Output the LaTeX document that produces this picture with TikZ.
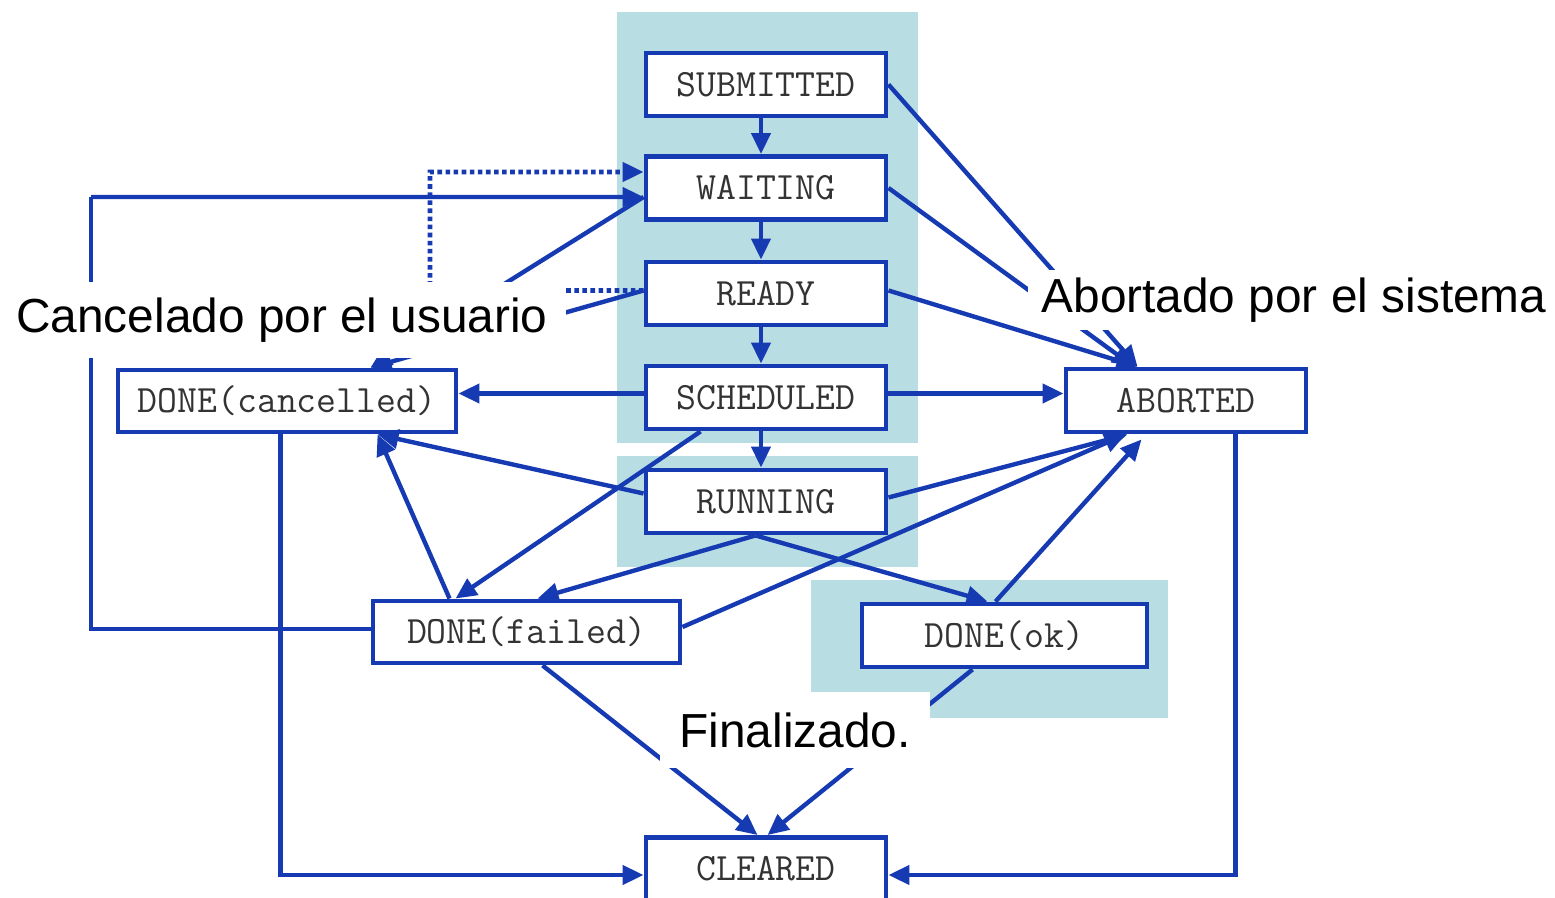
\documentclass[tikz,border=0pt]{standalone}
\usepackage{fontspec}
\setmainfont{Liberation Sans}
\usepackage{tikz}
\usepackage{xcolor}
\usetikzlibrary{arrows.meta}

\definecolor{linkblue}{RGB}{22,58,178}
\definecolor{panelblue}{RGB}{184,221,227}

\tikzset{
  state/.style={draw=linkblue,line width=1.4pt,fill=white,minimum width=2.4cm,minimum height=0.63cm,inner sep=0pt,font=\ttfamily\fontsize{11}{13}\selectfont,text=black!80},
  conn/.style={linkblue,line width=1.25pt,-{Triangle[length=0.21cm,width=0.19cm]}},
  plain/.style={linkblue,line width=1.25pt},
  dots/.style={linkblue,line width=1.3pt,densely dotted,-{Triangle[length=0.21cm,width=0.19cm]}},
  tag/.style={fill=white,inner sep=0pt,font=\fontsize{13.6}{16}\selectfont,text=black}
}

\begin{document}
\begin{tikzpicture}
      \useasboundingbox (0,0) rectangle (15.55,-8.98);
      \fill [panelblue] (6.17,-0.12) rectangle (9.18,-4.43);
      \fill [panelblue] (6.17,-4.56) rectangle (9.18,-5.67);
      \fill [panelblue] (8.11,-5.80) rectangle (11.68,-7.18);

      \node [state] (sub) at (7.66,-0.845) {SUBMITTED};
      \node [state] (wait) at (7.66,-1.88) {WAITING};
      \node [state] (ready) at (7.66,-2.935) {READY};
      \node [state] (sched) at (7.66,-3.975) {SCHEDULED};
      \node [state] (run) at (7.66,-5.015) {RUNNING};
      \node [state,minimum width=3.38cm,minimum height=0.62cm] (canc) at (2.87,-4.01) {DONE(cancelled)};
      \node [state] (abort) at (11.86,-4.005) {ABORTED};
      \node [state,minimum width=3.07cm,minimum height=0.62cm] (fail) at (5.265,-6.32) {DONE(failed)};
      \node [state,minimum width=2.85cm] (ok) at (10.045,-6.355) {DONE(ok)};
      \node [state] (clear) at (7.66,-8.69) {CLEARED};

      \coordinate (loop) at (0.91,-1.97);
      \coordinate (dot) at (4.30,-1.72);

      \draw [conn] ([xshift=-0.5mm]sub.south) -- ([xshift=-0.5mm]wait.north);
      \draw [conn] ([xshift=-0.5mm]wait.south) -- ([xshift=-0.5mm]ready.north);
      \draw [conn] ([xshift=-0.5mm]ready.south) -- ([xshift=-0.5mm]sched.north);
      \draw [conn] ([xshift=-0.5mm]sched.south) -- ([xshift=-0.5mm]run.north);

      \draw [conn] (sub.east) -- ([xshift=7.4mm]abort.north west);
      \draw [conn] (wait.east) -- ([xshift=7.0mm]abort.north west);
      \draw [conn] ([yshift=0.3mm]ready.east) -- ([xshift=7.4mm]abort.north west);
      \draw [conn] ([yshift=0.4mm]sched.east) -- ([yshift=0.4mm]sched.east -| abort.west);
      \draw [conn] ([yshift=0.4mm]run.east) -- ([xshift=6.4mm]abort.south west);
      \draw [conn] ([yshift=0.5mm]fail.east) -- ([xshift=6.2mm]abort.south west);
      \draw [conn] ([xshift=-0.9mm]ok.north) -- ([xshift=7.8mm,yshift=-0.5mm]abort.south west);

      \draw [conn] ([yshift=0.4mm]sched.west) -- ([yshift=0.4mm]sched.west -| canc.east);
      \draw [conn] ([yshift=0.8mm]run.west) -- ([xshift=26.2mm]canc.south west);
      \draw [conn] ([xshift=7.9mm]fail.north west) -- ([xshift=26.2mm]canc.south west);
      \draw [conn] ([yshift=0.3mm]ready.west) -- ([xshift=25.5mm]canc.north west);
      \draw [conn] ([yshift=-0.9mm]wait.west) -- ([xshift=25.5mm]canc.north west);

      \draw [conn] ([xshift=5.7mm]sched.south west) -- ([xshift=8.5mm]fail.north west);
      \draw [conn] ([xshift=11.2mm]run.south west) -- ([xshift=16.7mm]fail.north west);
      \draw [conn] ([xshift=11.2mm]run.south west) -- ([xshift=12.8mm]ok.north west);

      \draw [plain] ([yshift=0.3mm]fail.west) -| (loop);
      \draw [conn] (loop) -- ([yshift=-0.9mm]wait.west);
      \draw [dots] ([yshift=0.3mm]ready.west) -| (dot) -- ([yshift=1.6mm]wait.west);

      \draw [conn] ([xshift=16.5mm]canc.south west) |- ([yshift=-0.6mm]clear.west);
      \draw [conn] ([xshift=17.2mm]abort.south west) |- ([yshift=-0.6mm]clear.east);
      \draw [conn] ([xshift=17.2mm]fail.south west) -- ([xshift=11.4mm]clear.north west);
      \draw [conn] ([xshift=11.3mm]ok.south west) -- ([xshift=12.4mm]clear.north west);

      \node [tag,minimum width=5.68cm,minimum height=0.76cm] (lblcanc) at (2.82,-3.20) {Cancelado por el usuario};
      \node [tag,minimum width=5.33cm,minimum height=0.60cm] (lblabort) at (12.94,-3.00) {Abortado por el sistema};
      \node [tag,minimum width=2.70cm,minimum height=0.76cm] (lblfin) at (7.95,-7.30) {Finalizado.};
\end{tikzpicture}
\end{document}
